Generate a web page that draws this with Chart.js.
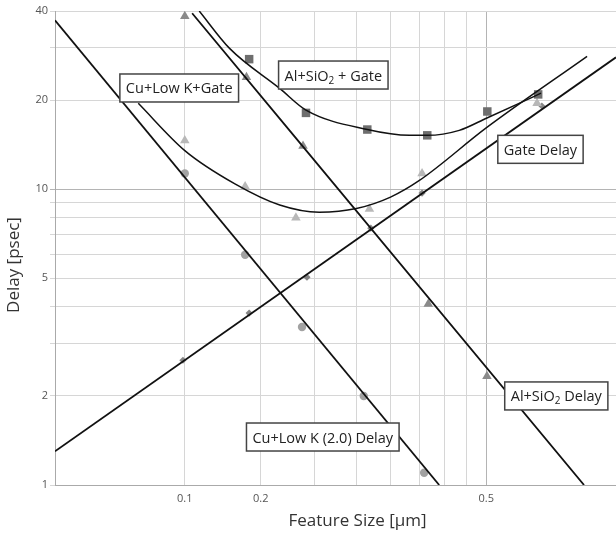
<!DOCTYPE html>
<html>
<head>
<meta charset="utf-8">
<script src="https://cdn.jsdelivr.net/npm/chart.js@4.4.1/dist/chart.umd.min.js"></script>
<style>
   html, body { margin: 0; padding: 0; background: #fff; }
   #wrap { width: 616px; height: 534px; }
</style>
</head>
<body>
<div id="wrap"><canvas id="myChart" width="616" height="534"></canvas></div>
<script>
"use strict";

// axis ticks
const xGrid = [0.1, 0.15, 0.2, 0.25, 0.3, 0.35, 0.4, 0.45, 0.5];
const xTickText = ["0.1", "0.2", "", "", "", "", "", "", "0.5"];
const yGrid = [1, 2, 3, 4, 5, 6, 7, 8, 9, 10, 20, 30, 40];
const yTickLabels = [1, 2, 5, 10, 20, 40];

// measured points
const alGateX = [0.141, 0.191, 0.265, 0.365, 0.503, 0.66];
const alGateY = [27.5, 18.1, 15.9, 15.2, 18.3, 20.9];
const alX = [0.1, 0.139, 0.188, 0.367, 0.502];
const alY = [38.4, 23.9, 14.0, 4.09, 2.33];
const cuGateX = [0.1, 0.138, 0.181, 0.268, 0.355, 0.656];
const cuGateY = [14.6, 10.2, 8.0, 8.56, 11.3, 19.5];
const cuX = [0.1, 0.138, 0.187, 0.26, 0.359];
const cuY = [11.3, 6.0, 3.42, 2.0, 1.1];
const gateX = [0.099, 0.141, 0.192, 0.27, 0.355, 0.673];
const gateY = [2.64, 3.81, 5.04, 7.38, 9.7, 19.1];

// fitted lines
const cuLineX = [0.05, 0.389];
const cuLineY = [37.2, 1.0];
const alLineX = [0.104, 0.843];
const alLineY = [39.3, 1.0];
const gateLineX = [0.05, 1.0];
const gateLineY = [1.3, 27.9];

// fitted curves
const cuGateCurveX = [0.078, 0.1, 0.131, 0.166, 0.205, 0.25, 0.3, 0.35, 0.5, 0.857];
const cuGateCurveY = [19.5, 13.5, 10.4, 8.84, 8.36, 8.6, 9.4, 10.7, 16.1, 28.1];
const alGateCurveX = [0.108, 0.127, 0.166, 0.191, 0.265, 0.332, 0.365, 0.433, 0.502, 0.596, 0.67];
const alGateCurveY = [40, 29.9, 21.9, 18.5, 15.9, 15.2, 15.2, 15.8, 17.4, 19.5, 21.1];

const toPoints = function (xs, ys) {
   return xs.map((x, i) => ({ x: x, y: ys[i] }));
};

const lineSet = function (xs, ys, width) {
   return {
      data: toPoints(xs, ys),
      showLine: true,
      borderColor: "#111",
      borderWidth: width,
      pointRadius: 0,
      cubicInterpolationMode: "monotone",
   };
};

const markSet = function (xs, ys, style, color, radius) {
   return {
      data: toPoints(xs, ys),
      showLine: false,
      pointStyle: style,
      pointRadius: radius,
      backgroundColor: color,
      borderColor: color,
      borderWidth: 0,
   };
};

// text boxes, anchored at box top-left in data units
const notes = [
   { text: "Cu+Low K+Gate", x: 0.0707, y: 24.5 },
   { text: "Al+SiO_2 + Gate", x: 0.165, y: 27.1 },
   { text: "Gate Delay", x: 0.532, y: 15.2 },
   { text: "Al+SiO_2 Delay", x: 0.552, y: 2.23 },
   { text: "Cu+Low K (2.0) Delay", x: 0.139, y: 1.62 },
];

const FONT = "'Open Sans', sans-serif";

const notesPlugin = {
   id: "notes",
   afterDraw(chart) {
      const ctx = chart.ctx;
      const xs = chart.scales.x;
      const ys = chart.scales.y;
      const area = chart.chartArea;
      ctx.save();
      notes.forEach((n) => {
         const parts = n.text.split(/_(\d)/);
         let w = 0;
         parts.forEach((p, i) => {
            ctx.font = (i % 2 ? "10px " : "14.5px ") + FONT;
            w += ctx.measureText(p).width;
         });
         const left = xs.getPixelForValue(n.x);
         const top = ys.getPixelForValue(n.y);
         const boxW = w + 12;
         const boxH = 28;
         ctx.fillStyle = "#fff";
         ctx.fillRect(left, top, boxW, boxH);
         ctx.strokeStyle = "#444";
         ctx.lineWidth = 1.5;
         ctx.strokeRect(left, top, boxW, boxH);
         ctx.fillStyle = "#222";
         ctx.textBaseline = "alphabetic";
         ctx.textAlign = "left";
         let cx = left + 6;
         const base = top + 19.5;
         parts.forEach((p, i) => {
            ctx.font = (i % 2 ? "10px " : "14.5px ") + FONT;
            ctx.fillText(p, cx, i % 2 ? base + 3 : base);
            cx += ctx.measureText(p).width;
         });
      });

      // axis titles
      ctx.fillStyle = "#333";
      ctx.font = "17px " + FONT;
      ctx.textAlign = "center";
      ctx.textBaseline = "alphabetic";
      ctx.fillText("Feature Size [\u00b5m]", (area.left + area.right) / 2 + 22, 526);
      ctx.translate(19, (area.top + area.bottom) / 2 + 17);
      ctx.rotate(-Math.PI / 2);
      ctx.fillText("Delay [psec]", 0, 0);
      ctx.restore();
   },
};

const gridColor = function (c, strong) {
   return strong.includes(c.tick && c.tick.value) ? "#b4b4b4" : "#d6d6d6";
};

Chart.defaults.font.family = FONT;

const ctx = document.getElementById("myChart").getContext("2d");
const myChart = new Chart(ctx, {
   type: "scatter",
   data: {
      datasets: [
         lineSet(cuLineX, cuLineY, 1.8),
         lineSet(alLineX, alLineY, 1.8),
         lineSet(gateLineX, gateLineY, 1.8),
         lineSet(cuGateCurveX, cuGateCurveY, 1.5),
         lineSet(alGateCurveX, alGateCurveY, 1.5),
         markSet(alGateX, alGateY, "rect", "#6e6e6e", 6),
         markSet(alX, alY, "triangle", "#8a8a8a", 5.5),
         markSet(cuGateX, cuGateY, "triangle", "#b8b8b8", 5.5),
         markSet(cuX, cuY, "circle", "#a2a2a2", 4.2),
         markSet(gateX, gateY, "rectRot", "#858585", 3.6),
      ],
   },
   options: {
      responsive: false,
      animation: false,
      layout: { autoPadding: false, padding: { left: 0, right: 0, top: 11, bottom: 0 } },
      plugins: {
         legend: { display: false },
         tooltip: { enabled: false },
      },
      scales: {
         x: {
            type: "logarithmic",
            min: 0.05,
            max: 1.0,
            afterBuildTicks: (scale) => {
               scale.ticks = xGrid.map((v) => ({ value: v }));
            },
            afterFit: (scale) => {
               scale.height = 49;
            },
            ticks: {
               autoSkip: false,
               maxRotation: 0,
               padding: 7,
               color: "#555",
               font: { size: 11 },
               callback: (val, i) => xTickText[i],
            },
            grid: {
               drawTicks: false,
               color: (c) => gridColor(c, [0.5]),
            },
            border: { color: "#aaa" },
         },
         y: {
            type: "logarithmic",
            min: 1,
            max: 40,
            afterBuildTicks: (scale) => {
               scale.ticks = yGrid.map((v) => ({ value: v }));
            },
            afterFit: (scale) => {
               scale.width = 55;
            },
            ticks: {
               autoSkip: false,
               padding: 2,
               color: "#555",
               font: { size: 11 },
               callback: (val) => (yTickLabels.includes(val) ? String(val) : ""),
            },
            grid: {
               tickLength: 5,
               color: (c) => gridColor(c, [10]),
            },
            border: { color: "#aaa" },
         },
      },
   },
   plugins: [notesPlugin],
});
</script>
</body>
</html>
